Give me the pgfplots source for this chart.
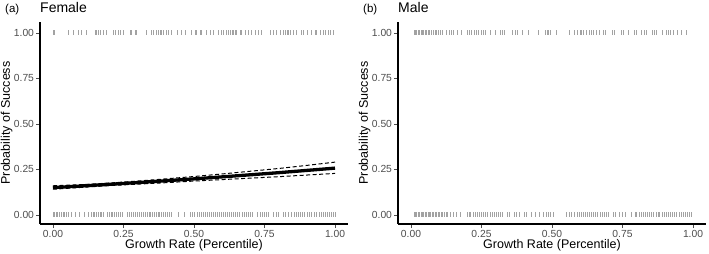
\documentclass[border=0pt]{standalone}
\usepackage{fontspec}
\setmainfont{Liberation Sans}
\usepackage{pgfplots}
\pgfplotsset{compat=1.18}
\definecolor{tickgray}{HTML}{4D4D4D}
\definecolor{ruggray}{HTML}{A2A2A2}

\pgfplotsset{
  rugplot/.style={only marks, mark=|, mark size=2.5pt, mark options={line width=0.55pt, draw=ruggray}},
  panel/.style={
    scale only axis, width=308pt, height=202pt,
    xmin=-0.046, xmax=1.046, ymin=-0.05, ymax=1.06,
    axis x line*=bottom, axis y line*=left,
    axis line style={line width=1.4pt, black, -},
    xtick={0,0.25,0.5,0.75,1}, ytick={0,0.25,0.5,0.75,1},
    xticklabels={0.00,0.25,0.50,0.75,1.00},
    yticklabels={0.00,0.25,0.50,0.75,1.00},
    tick style={line width=0.6pt, color=tickgray},
    major tick length=4pt, tick align=outside,
    ticklabel style={font=\fontsize{10.3}{12}\selectfont, text=tickgray},
    xticklabel style={yshift=1.5pt},
    yticklabel style={xshift=1.5pt},
    /pgf/number format/assume math mode=true,
    xlabel={Growth Rate (Percentile)}, ylabel={Probability of Success},
    label style={font=\fontsize{12.5}{14}\selectfont},
    xlabel style={at={(axis description cs:0.5,-0.104)}, anchor=center},
    ylabel style={at={(axis description cs:-0.108,0.5)}, anchor=center},
  }
}

\begin{document}
\begin{tikzpicture}
\useasboundingbox (0,0) rectangle (709pt,254pt);

\begin{axis}[panel, at={(40pt,30pt)}, anchor=south west]
  % female, success = 1
  \addplot[rugplot] coordinates {
  (0.000,1)(0.006,1)(0.054,1)(0.072,1)(0.090,1)(0.102,1)(0.119,1)(0.149,1)(0.155,1)(0.161,1)(0.167,1)(0.178,1)(0.188,1)(0.214,1)(0.220,1)(0.232,1)(0.238,1)(0.249,1)
  (0.273,1)(0.279,1)(0.291,1)(0.297,1)(0.332,1)(0.350,1)(0.356,1)(0.368,1)(0.374,1)(0.379,1)(0.385,1)(0.391,1)(0.403,1)(0.409,1)(0.421,1)(0.439,1)(0.456,1)(0.468,1)
  (0.492,1)(0.504,1)(0.509,1)(0.521,1)(0.527,1)(0.545,1)(0.557,1)(0.569,1)(0.586,1)(0.598,1)(0.604,1)(0.616,1)(0.622,1)(0.628,1)(0.634,1)(0.639,1)(0.645,1)(0.651,1)
  (0.663,1)(0.669,1)(0.681,1)(0.693,1)(0.704,1)(0.716,1)(0.728,1)(0.740,1)(0.770,1)(0.781,1)(0.793,1)(0.805,1)(0.817,1)(0.823,1)(0.829,1)(0.835,1)(0.840,1)(0.852,1)
  (0.864,1)(0.882,1)(0.888,1)(0.900,1)(0.917,1)(0.929,1)(0.935,1)(0.947,1)(0.959,1)(0.965,1)(0.976,1)(0.982,1)(0.994,1)};
  % female, success = 0
  \addplot[rugplot] coordinates {
  (0.000,0)(0.005,0)(0.010,0)(0.015,0)(0.022,0)(0.028,0)(0.035,0)(0.040,0)(0.048,0)(0.055,0)(0.065,0)(0.080,0)(0.095,0)(0.110,0)(0.125,0)(0.135,0)(0.142,0)(0.148,0)
  (0.155,0)(0.160,0)(0.167,0)(0.172,0)(0.180,0)(0.192,0)(0.198,0)(0.205,0)(0.212,0)(0.218,0)(0.225,0)(0.230,0)(0.237,0)(0.245,0)(0.265,0)(0.272,0)(0.278,0)(0.285,0)
  (0.292,0)(0.300,0)(0.306,0)(0.313,0)(0.320,0)(0.327,0)(0.333,0)(0.340,0)(0.346,0)(0.352,0)(0.358,0)(0.365,0)(0.372,0)(0.378,0)(0.385,0)(0.392,0)(0.398,0)(0.405,0)
  (0.412,0)(0.420,0)(0.445,0)(0.465,0)(0.487,0)(0.495,0)(0.502,0)(0.510,0)(0.518,0)(0.525,0)(0.532,0)(0.540,0)(0.548,0)(0.555,0)(0.562,0)(0.568,0)(0.575,0)(0.582,0)
  (0.590,0)(0.597,0)(0.603,0)(0.610,0)(0.618,0)(0.625,0)(0.632,0)(0.640,0)(0.648,0)(0.655,0)(0.662,0)(0.670,0)(0.678,0)(0.685,0)(0.692,0)(0.700,0)(0.708,0)(0.725,0)
  (0.735,0)(0.742,0)(0.750,0)(0.757,0)(0.765,0)(0.780,0)(0.790,0)(0.800,0)(0.815,0)(0.822,0)(0.835,0)(0.845,0)(0.855,0)(0.862,0)(0.870,0)(0.877,0)(0.885,0)(0.892,0)
  (0.900,0)(0.908,0)(0.915,0)(0.925,0)(0.935,0)(0.943,0)(0.950,0)(0.958,0)(0.965,0)(0.972,0)(0.980,0)(0.988,0)(0.995,0)(1.000,0)};
  \addplot[black, line width=1pt, dash pattern=on 4pt off 2.5pt] coordinates {
    (0,0.160) (0.1,0.166) (0.2,0.175) (0.3,0.186) (0.4,0.198) (0.5,0.211)
    (0.6,0.225) (0.7,0.240) (0.8,0.255) (0.9,0.272) (1.0,0.290)};
  \addplot[black, line width=1pt, dash pattern=on 4pt off 2.5pt] coordinates {
    (0,0.141) (0.1,0.151) (0.2,0.161) (0.3,0.169) (0.4,0.177) (0.5,0.186)
    (0.6,0.194) (0.7,0.202) (0.8,0.210) (0.9,0.219) (1.0,0.228)};
  \addplot[black, line width=3.3pt] coordinates {
    (0,0.150) (0.1,0.1587) (0.2,0.168) (0.3,0.1776) (0.4,0.1877) (0.5,0.198)
    (0.6,0.209) (0.7,0.2205) (0.8,0.232) (0.9,0.2445) (1.0,0.257)};
\end{axis}

\begin{axis}[panel, at={(398pt,30pt)}, anchor=south west]
  % male, success = 1
  \addplot[rugplot] coordinates {
  (0.010,1)(0.015,1)(0.020,1)(0.025,1)(0.030,1)(0.035,1)(0.040,1)(0.045,1)(0.050,1)(0.055,1)(0.060,1)(0.066,1)(0.072,1)(0.078,1)(0.085,1)(0.090,1)(0.097,1)(0.103,1)
  (0.110,1)(0.125,1)(0.135,1)(0.142,1)(0.150,1)(0.165,1)(0.180,1)(0.200,1)(0.206,1)(0.212,1)(0.225,1)(0.232,1)(0.240,1)(0.248,1)(0.255,1)(0.262,1)(0.280,1)(0.300,1)
  (0.318,1)(0.325,1)(0.330,1)(0.360,1)(0.368,1)(0.376,1)(0.395,1)(0.415,1)(0.450,1)(0.475,1)(0.482,1)(0.488,1)(0.495,1)(0.515,1)(0.560,1)(0.580,1)(0.590,1)(0.600,1)
  (0.605,1)(0.612,1)(0.622,1)(0.632,1)(0.640,1)(0.648,1)(0.658,1)(0.668,1)(0.682,1)(0.690,1)(0.715,1)(0.722,1)(0.745,1)(0.752,1)(0.770,1)(0.790,1)(0.800,1)(0.818,1)
  (0.826,1)(0.835,1)(0.855,1)(0.862,1)(0.870,1)(0.890,1)(0.905,1)(0.912,1)(0.920,1)(0.930,1)(0.945,1)(0.960,1)(0.975,1)};
  % male, success = 0
  \addplot[rugplot] coordinates {
  (0.010,0)(0.015,0)(0.020,0)(0.025,0)(0.030,0)(0.035,0)(0.040,0)(0.045,0)(0.050,0)(0.055,0)(0.060,0)(0.065,0)(0.070,0)(0.075,0)(0.080,0)(0.085,0)(0.090,0)(0.095,0)
  (0.100,0)(0.106,0)(0.112,0)(0.118,0)(0.124,0)(0.130,0)(0.140,0)(0.150,0)(0.160,0)(0.175,0)(0.200,0)(0.205,0)(0.210,0)(0.220,0)(0.228,0)(0.235,0)(0.242,0)(0.250,0)
  (0.258,0)(0.265,0)(0.272,0)(0.280,0)(0.288,0)(0.295,0)(0.302,0)(0.310,0)(0.318,0)(0.325,0)(0.340,0)(0.348,0)(0.365,0)(0.372,0)(0.385,0)(0.400,0)(0.410,0)(0.425,0)
  (0.440,0)(0.455,0)(0.470,0)(0.480,0)(0.488,0)(0.495,0)(0.505,0)(0.550,0)(0.560,0)(0.570,0)(0.580,0)(0.588,0)(0.595,0)(0.602,0)(0.610,0)(0.618,0)(0.625,0)(0.632,0)
  (0.640,0)(0.648,0)(0.655,0)(0.662,0)(0.670,0)(0.678,0)(0.685,0)(0.692,0)(0.700,0)(0.718,0)(0.725,0)(0.740,0)(0.750,0)(0.760,0)(0.780,0)(0.795,0)(0.800,0)(0.808,0)
  (0.815,0)(0.822,0)(0.830,0)(0.838,0)(0.845,0)(0.852,0)(0.860,0)(0.868,0)(0.875,0)(0.882,0)(0.890,0)(0.898,0)(0.905,0)(0.912,0)(0.920,0)(0.928,0)(0.935,0)(0.942,0)
  (0.950,0)(0.958,0)(0.965,0)(0.972,0)(0.980,0)(0.988,0)(0.993,0)};
\end{axis}

\node[anchor=base west, inner sep=0] at (5pt,241pt) {\fontsize{11.5}{13}\selectfont (a)};
\node[anchor=base west, inner sep=0] at (40pt,241pt) {\fontsize{14}{16}\selectfont Female};
\node[anchor=base west, inner sep=0] at (363pt,241pt) {\fontsize{11.5}{13}\selectfont (b)};
\node[anchor=base west, inner sep=0] at (398pt,241pt) {\fontsize{14}{16}\selectfont Male};
\end{tikzpicture}
\end{document}
